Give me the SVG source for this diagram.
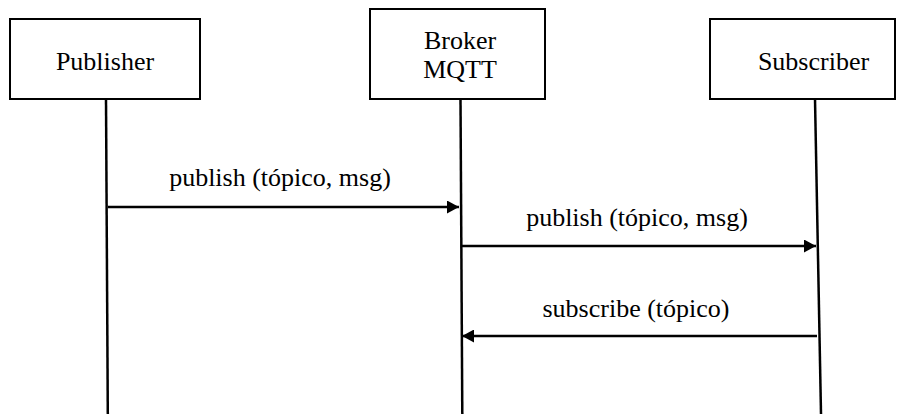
<svg xmlns="http://www.w3.org/2000/svg" width="907" height="414" viewBox="0 0 907 414">
  <style>
    .box { fill: #ffffff; stroke: #000000; stroke-width: 2; }
    .life { stroke: #000000; stroke-width: 2.5; fill: none; }
    .msg { stroke: #000000; stroke-width: 2.5; fill: none; }
    .lbl { font-size: 26px; fill: #000000; text-anchor: middle; }
  </style>
  <defs>
    <marker id="head" viewBox="0 0 12 13" refX="12" refY="6.5" markerWidth="12" markerHeight="13" markerUnits="userSpaceOnUse" orient="auto">
      <path d="M0,0 L12,6.5 L0,13 Z" fill="#000000"/>
    </marker>
  </defs>
  <rect width="907" height="414" fill="#ffffff"/>

  <!-- lifelines -->
  <g id="lifelines">
    <line class="life" x1="106" y1="99" x2="107.8" y2="414"/>
    <line class="life" x1="460.5" y1="99" x2="462.3" y2="414"/>
    <line class="life" x1="815" y1="99" x2="821" y2="414"/>
  </g>

  <g font-family="Liberation Serif, Tinos, Times New Roman, DejaVu Serif, serif">
    <g id="publisher">
      <rect class="box" x="10" y="19" width="190" height="80"/>
      <text class="lbl" x="105" y="70">Publisher</text>
    </g>

    <g id="broker">
      <rect class="box" x="370" y="9" width="175" height="90"/>
      <text class="lbl" x="460" y="49">Broker</text>
      <text class="lbl" x="460" y="78">MQTT</text>
    </g>

    <g id="subscriber">
      <rect class="box" x="710" y="19" width="185" height="80"/>
      <text class="lbl" x="813.5" y="70">Subscriber</text>
    </g>

    <!-- messages -->
    <g id="connectors">
      <line class="msg" x1="108" y1="207" x2="459" y2="207" marker-end="url(#head)"/>
      <text class="lbl" x="280" y="186">publish (tópico, msg)</text>

      <line class="msg" x1="462" y1="246" x2="816" y2="246" marker-end="url(#head)"/>
      <text class="lbl" x="637" y="226">publish (tópico, msg)</text>

      <line class="msg" x1="817" y1="336" x2="462" y2="336" marker-end="url(#head)"/>
      <text class="lbl" x="636" y="317">subscribe (tópico)</text>
    </g>
  </g>
</svg>
